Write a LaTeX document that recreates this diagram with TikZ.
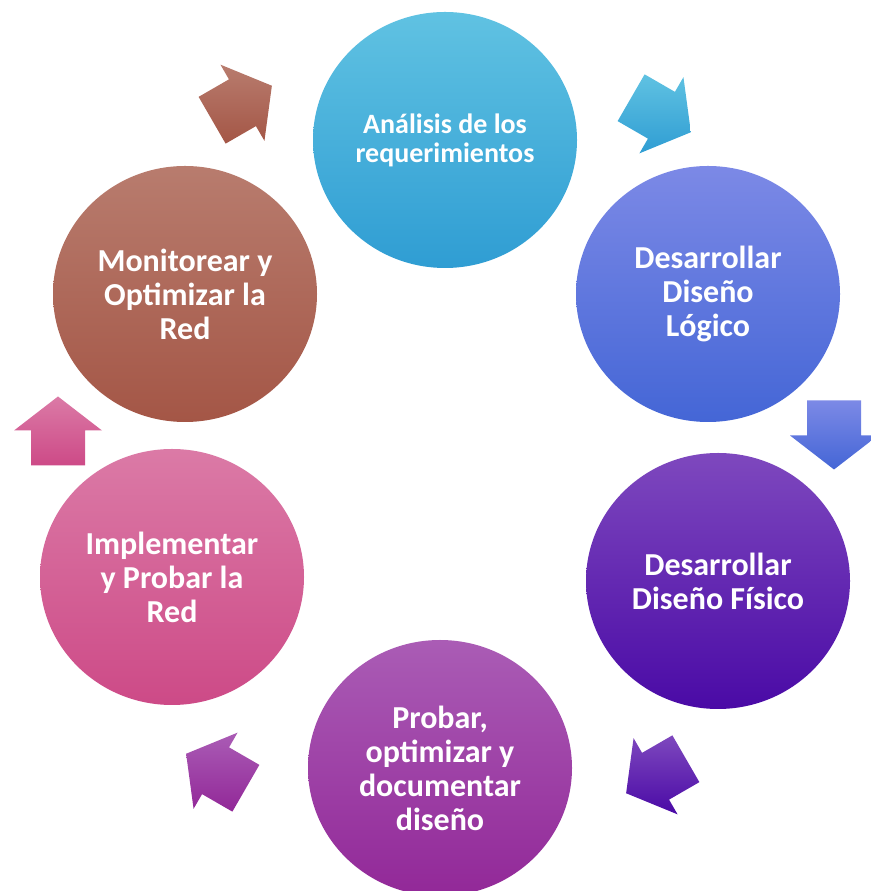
\documentclass[tikz,border=0pt]{standalone}
\usepackage{fontspec}
\setmainfont{Carlito}
\usetikzlibrary{shapes.geometric}

% colores de cada etapa (arriba / abajo del degradado)
\definecolor{anaA}{HTML}{60C2E2}
\definecolor{anaB}{HTML}{2F9DD3}
\definecolor{logA}{HTML}{7C89E6}
\definecolor{logB}{HTML}{4466D6}
\definecolor{fisA}{HTML}{7E48BE}
\definecolor{fisB}{HTML}{4A0AA6}
\definecolor{proA}{HTML}{AA5CB5}
\definecolor{proB}{HTML}{922898}
\definecolor{impA}{HTML}{DB7AA6}
\definecolor{impB}{HTML}{CD4A87}
\definecolor{monA}{HTML}{B87C6E}
\definecolor{monB}{HTML}{A45646}

\tikzset{
  etapa/.style={ellipse, minimum width=264pt, minimum height=256pt, inner sep=0pt,
    align=center, text=white, top color=#1A, bottom color=#1B,
    font=\bfseries\fontsize{32}{34}\selectfont},
  flecha/.style={top color=#1A, bottom color=#1B},
  pics/bloque/.style={code={
    \path[pic actions] (-34.5,-27) -- (0.5,-27) -- (0.5,-44) -- (34.5,0)
      -- (0.5,44) -- (0.5,27) -- (-34.5,27) -- cycle;
  }}
}

\begin{document}
\begin{tikzpicture}[x=1pt, y=1pt]
  \useasboundingbox (0,0) rectangle (870,891);

  % etapas del ciclo
  \node[etapa=ana, font=\bfseries\fontsize{28}{29}\selectfont] (analisis) at (445,751)
    {Análisis de los\\requerimientos};
  \node[etapa=log] (logico) at (708,597) {Desarrollar\\Diseño\\Lógico};
  \node[etapa=fis] (fisico) at (718,310) {Desarrollar\\Diseño Físico};
  \node[etapa=pro] (probar) at (440,123) {Probar,\\optimizar y\\documentar\\diseño};
  \node[etapa=imp] (implementar) at (172,314) {Implementar\\y Probar la\\Red};
  \node[etapa=mon] (monitorear) at (185,597) {Monitorear y\\Optimizar la\\Red};

  % flechas entre etapas
  \pic[flecha=mon, rotate=30]  (f1) at (242,788) {bloque};
  \pic[flecha=ana, rotate=-30] (f2) at (661,776) {bloque};
  \pic[flecha=log, rotate=-90] (f3) at (834,456) {bloque};
  \pic[flecha=fis, rotate=-150] (f4) at (656,115) {bloque};
  \pic[flecha=pro, rotate=150] (f5) at (216,120) {bloque};
  \pic[flecha=imp, rotate=90]  (f6) at (58,460) {bloque};
\end{tikzpicture}
\end{document}
